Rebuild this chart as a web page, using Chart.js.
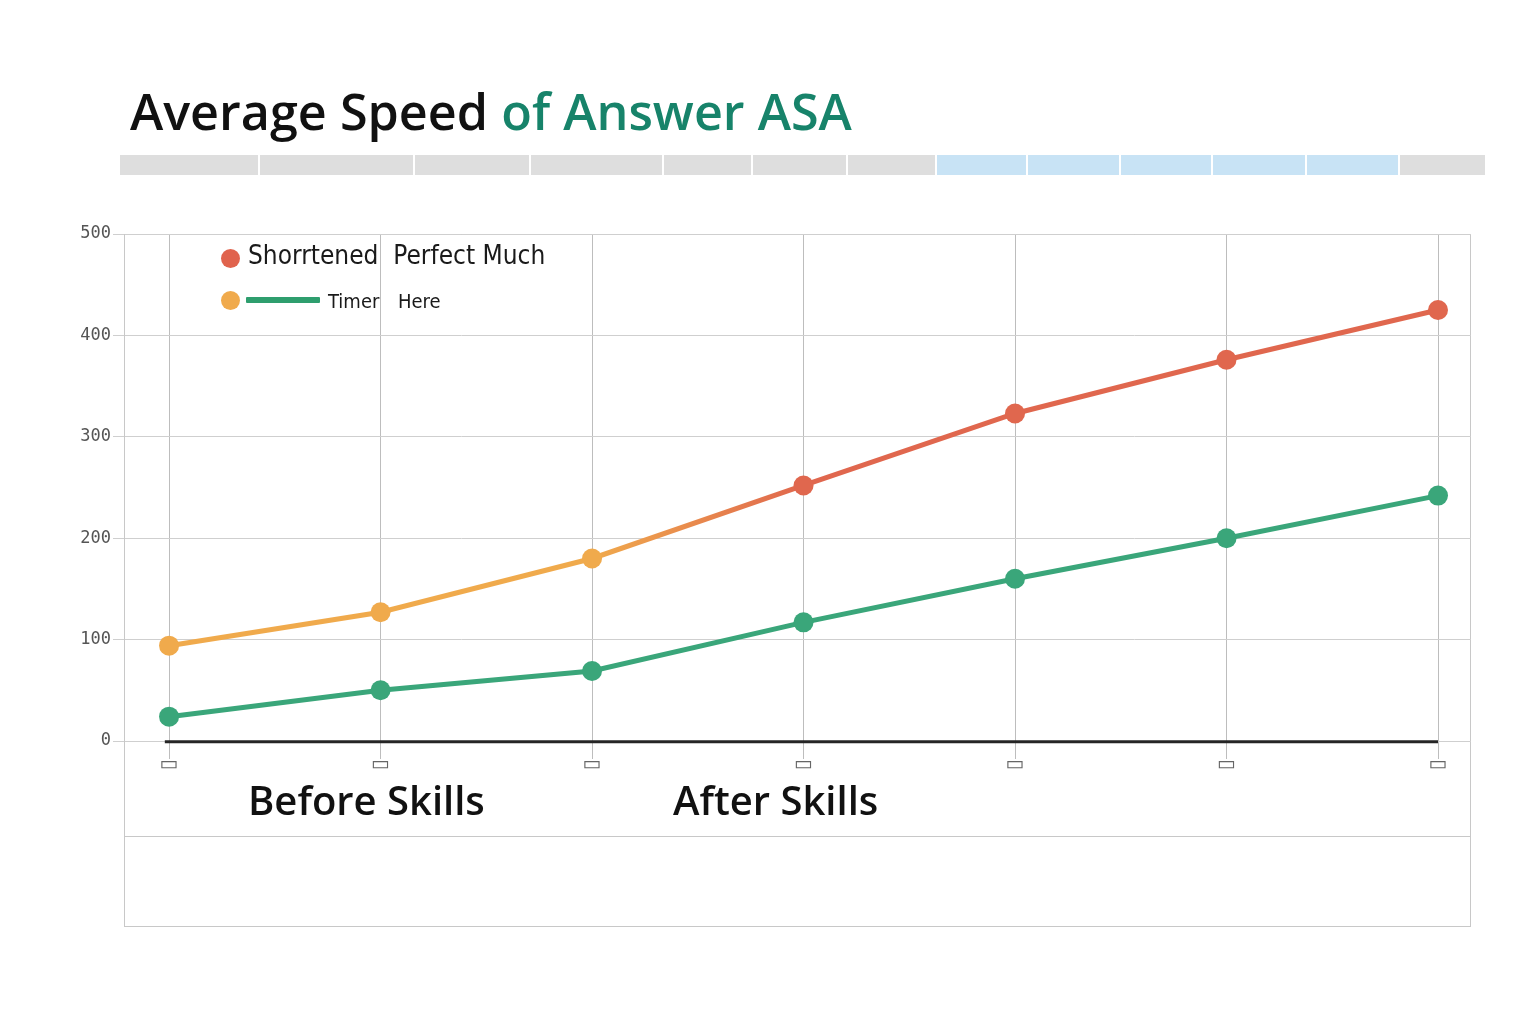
<!DOCTYPE html>
<html>
<head>
<meta charset="utf-8">
<script src="https://cdn.jsdelivr.net/npm/chart.js@4.4.1/dist/chart.umd.min.js"></script>
<style>
  html,body{margin:0;padding:0;background:#fff;width:1521px;height:1014px;overflow:hidden;}
  #wrap{position:relative;width:1521px;height:1014px;}
  #title{position:absolute;left:130px;top:76px;font-family:"Open Sans",sans-serif;font-weight:600;font-size:50.3px;color:#111;white-space:nowrap;letter-spacing:0px;}
  #title .g{color:#17836A;}
  #bar{position:absolute;left:120px;top:155px;height:20px;width:1367px;display:flex;}
  #bar div{height:20px;box-sizing:border-box;border-right:2px solid #fff;}
  #frame{position:absolute;left:124px;top:234px;width:1347px;height:693px;box-sizing:border-box;border:1px solid #c8c8c8;}
  #hline{position:absolute;left:124px;top:836px;width:1347px;height:1px;background:#c8c8c8;}
  #c{position:absolute;left:0;top:0;}
  .leg{position:absolute;font-family:"DejaVu Sans Condensed","DejaVu Sans",sans-serif;color:#1a1a1a;white-space:nowrap;}
  .dot{position:absolute;border-radius:50%;}
  .xl{position:absolute;font-family:"Open Sans",sans-serif;font-weight:600;font-size:40px;color:#111;white-space:nowrap;letter-spacing:0px;}
</style>
</head>
<body>
<div id="wrap">
  <div id="title">Average Speed <span class="g">of Answer ASA</span></div>
  <div id="bar"></div>
  <div id="frame"></div>
  <div id="hline"></div>
  <canvas id="c" width="1521" height="1014"></canvas>
  <div class="dot" style="left:221px;top:249px;width:19px;height:19px;background:#E0634D;"></div>
  <div class="leg" style="left:248px;top:240px;font-size:26px;">Shorrtened&nbsp; Perfect Much</div>
  <div class="dot" style="left:221px;top:291px;width:19px;height:19px;background:#F0AA4C;"></div>
  <div style="position:absolute;left:246px;top:297px;width:74px;height:6px;background:#2E9E6E;border-radius:1px;"></div>
  <div class="leg" style="left:328px;top:289px;font-size:20px;">Timer</div>
  <div class="leg" style="left:398px;top:289px;font-size:20px;">Here</div>
  <div class="xl" style="left:248px;top:772px;">Before Skills</div>
  <div class="xl" style="left:673px;top:772px;">After Skills</div>
</div>
<script>
// ---- data ----
const categories = ["1", "2", "3", "4", "5", "6", "7"];
const xTickLabels = ["▭", "▭", "▭", "▭", "▭", "▭", "▭"];
const yTickLabels = ["0", "100", "200", "300", "400", "500"];
const shortenedValues = [94, 127, 180, 252, 323, 376, 425];
const timerValues = [24, 50, 69, 117, 160, 200, 242];
const barSegments = [
  {w:140,c:"#dedede"},{w:155,c:"#dedede"},{w:116,c:"#dedede"},{w:133,c:"#dedede"},
  {w:89,c:"#dedede"},{w:95,c:"#dedede"},{w:89,c:"#dedede"},
  {w:91,c:"#c8e3f5"},{w:93,c:"#c8e3f5"},{w:92,c:"#c8e3f5"},{w:94,c:"#c8e3f5"},{w:93,c:"#c8e3f5"},
  {w:87,c:"#dedede"}
];

const bar = document.getElementById('bar');
barSegments.forEach(s => { const d = document.createElement('div'); d.style.width = s.w + 'px'; d.style.background = s.c; bar.appendChild(d); });

const ORANGE = "#F0AA4C", RED = "#E0674E", GREEN = "#3AA67A";

function topLineColor(ctx) {
  const chart = ctx.chart;
  const xs = chart.scales.x;
  if (!xs || !chart.chartArea) return RED;
  const g = chart.ctx.createLinearGradient(xs.getPixelForValue(2), 0, xs.getPixelForValue(3), 0);
  g.addColorStop(0, ORANGE);
  g.addColorStop(1, RED);
  return g;
}

const topData = shortenedValues.map((v, i) => ({x: i, y: v}));
const greenData = timerValues.map((v, i) => ({x: i, y: v}));
const axisData = [{x: -0.02, y: -0.8}, {x: categories.length - 1, y: -0.8}];

new Chart(document.getElementById('c'), {
  type: 'line',
  data: {
    datasets: [
      {
        label: 'axis',
        data: axisData,
        borderColor: '#262626',
        borderWidth: 3,
        pointRadius: 0,
        clip: false
      },
      {
        label: 'Shortened Perfect Much',
        data: topData,
        borderColor: topLineColor,
        pointBackgroundColor: shortenedValues.map((v, i) => i < 3 ? ORANGE : RED),
        pointBorderWidth: 0,
        pointRadius: 10,
        borderWidth: 5,
        tension: 0
      },
      {
        label: 'Timer Here',
        data: greenData,
        borderColor: GREEN,
        pointBackgroundColor: GREEN,
        pointBorderWidth: 0,
        pointRadius: 10,
        borderWidth: 5,
        tension: 0
      }
    ]
  },
  options: {
    responsive: false,
    animation: false,
    layout: {padding: {top: 234, right: 50, left: 0, bottom: 0}},
    plugins: {legend: {display: false}, tooltip: {enabled: false}},
    scales: {
      x: {
        type: 'linear',
        min: -0.213,
        max: 6.156,
        afterBuildTicks: s => { s.ticks = categories.map((c, i) => ({value: i})); },
        afterFit: s => { s.height = 273; },
        grid: {color: '#bdbdbd', lineWidth: 1, tickLength: 18, drawOnChartArea: true},
        border: {display: false},
        ticks: {
          callback: (v) => xTickLabels[v] ?? '',
          color: '#666',
          font: {size: 20, family: 'DejaVu Sans'},
          padding: -6,
          maxRotation: 0
        }
      },
      y: {
        min: 0,
        max: 500,
        afterFit: s => { s.width = 124; },
        afterBuildTicks: s => { s.ticks = yTickLabels.map(t => ({value: Number(t)})); },
        grid: {color: '#cfcfcf', lineWidth: 1, tickLength: 11},
        border: {display: true, color: '#c8c8c8'},
        ticks: {
          callback: (v) => String(v),
          color: '#555',
          font: {size: 17, family: 'DejaVu Sans Mono'},
          padding: 2
        }
      }
    }
  }
});
</script>
</body>
</html>
